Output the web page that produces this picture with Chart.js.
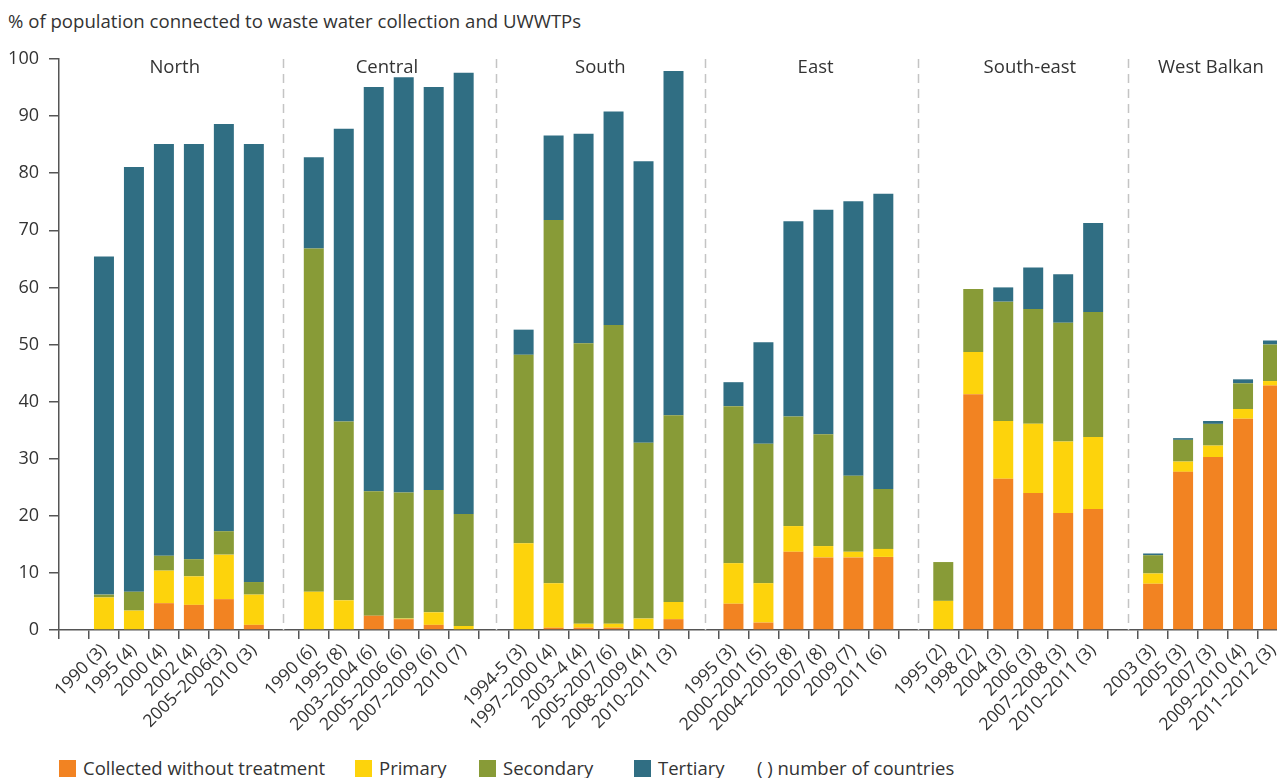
<!DOCTYPE html>
<html>
<head>
<meta charset="utf-8">
<script src="https://cdn.jsdelivr.net/npm/chart.js@4/dist/chart.umd.min.js"></script>
<style>
  body { margin: 0; background: #fff; overflow: hidden; font-family: 'Open Sans', sans-serif; color: #333; }
  #wrap { position: absolute; left: 0; top: 0; width: 1290px; height: 740px; }
  #title { position: absolute; left: 8px; top: 8px; font-size: 18.6px; color: #333; white-space: nowrap; }
  .lg { position: absolute; top: 757px; font-size: 18.5px; line-height: 22px; color: #333; white-space: nowrap; }
  .lg i { display: inline-block; width: 17px; height: 17px; vertical-align: -2px; margin-right: 7px; }
</style>
</head>
<body>
<div id="title">% of population connected to waste water collection and UWWTPs</div>
<div id="wrap"><canvas id="myChart" width="1290" height="740"></canvas></div>
<div class="lg" style="left:59px"><i style="background:#f28322"></i>Collected without treatment</div>
<div class="lg" style="left:355px"><i style="background:#fdd30c"></i>Primary</div>
<div class="lg" style="left:479px"><i style="background:#889b37"></i>Secondary</div>
<div class="lg" style="left:634px"><i style="background:#306e83"></i>Tertiary</div>
<div class="lg" style="left:757px">( ) number of countries</div>
<script>
// du lieu
const labels = ['',
  '1990 (3)', '1995 (4)', '2000 (4)', '2002 (4)', '2005–2006(3)', '2010 (3)', '',
  '1990 (6)', '1995 (8)', '2003–2004 (6)', '2005–2006 (6)', '2007–2009 (6)', '2010 (7)', '',
  '1994-5 (3)', '1997–2000 (4)', '2003–4 (4)', '2005-2007 (6)', '2008-2009 (4)', '2010-2011 (3)', '',
  '1995 (3)', '2000–2001 (5)', '2004–2005 (8)', '2007 (8)', '2009 (7)', '2011 (6)', '',
  '1995 (2)', '1998 (2)', '2004 (3)', '2006 (3)', '2007–2008 (3)', '2010–2011 (3)', '',
  '2003 (3)', '2005 (3)', '2007 (3)', '2009–2010 (4)', '2011–2012 (3)'];

const regions = ['North', 'Central', 'South', 'East', 'South-east', 'West Balkan'];

const collected = [null, 0, 0, 4.7, 4.4, 5.4, 0.9, null, 0, 0, 2.5, 1.9, 0.9, 0, null,
  0, 0.4, 0.4, 0.4, 0, 1.9, null, 4.6, 1.3, 13.7, 12.7, 12.7, 12.8, null,
  0, 41.3, 26.5, 24.0, 20.5, 21.2, null, 8.1, 27.7, 30.3, 37.0, 42.8];
const primary = [null, 5.7, 3.4, 5.7, 5.0, 7.8, 5.3, null, 6.7, 5.2, 0, 0.1, 2.2, 0.7, null,
  15.2, 7.8, 0.7, 0.7, 2.0, 3.0, null, 7.1, 6.9, 4.5, 2.0, 1.0, 1.4, null,
  5.1, 7.4, 10.1, 12.1, 12.5, 12.6, null, 1.8, 1.8, 2.0, 1.7, 0.8];
const secondary = [null, 0.5, 3.3, 2.6, 3.0, 4.1, 2.2, null, 60.1, 31.3, 21.8, 22.1, 21.4, 19.6, null,
  33.0, 63.6, 49.1, 52.3, 30.8, 32.7, null, 27.5, 24.4, 19.2, 19.6, 13.3, 10.5, null,
  6.8, 11.0, 20.9, 20.1, 20.8, 21.9, null, 3.2, 3.8, 3.8, 4.5, 6.4];
const tertiary = [null, 59.2, 74.4, 72.1, 72.7, 71.3, 76.7, null, 16.0, 51.3, 70.8, 72.7, 70.6, 77.3, null,
  4.4, 14.8, 36.7, 37.4, 49.3, 60.3, null, 4.2, 17.8, 34.2, 39.3, 48.1, 51.7, null,
  0, 0, 2.5, 7.3, 8.5, 15.6, null, 0.3, 0.3, 0.5, 0.7, 0.7];

// vi tri nhan vung va duong ke (theo chi so cot)
const regionPos = [3.36, 10.44, 17.56, 24.74, 31.89, 37.93];
const sepPos = [6.97, 14.08, 21.05, 28.16, 35.17];

const regionPlugin = {
  id: 'regions',
  beforeDatasetsDraw(chart) {
    const ctx = chart.ctx;
    const x = chart.scales.x;
    const area = chart.chartArea;
    ctx.save();
    ctx.strokeStyle = '#c4c4c4';
    ctx.lineWidth = 1.5;
    ctx.setLineDash([9, 6]);
    sepPos.forEach(p => {
      const px = Math.round(x.getPixelForValue(p)) + 0.5;
      ctx.beginPath();
      ctx.moveTo(px, area.top);
      ctx.lineTo(px, area.bottom);
      ctx.stroke();
    });
    ctx.restore();
  },
  afterDatasetsDraw(chart) {
    const ctx = chart.ctx;
    const x = chart.scales.x;
    ctx.save();
    ctx.font = '18.5px "Open Sans"';
    ctx.fillStyle = '#333';
    ctx.textAlign = 'center';
    ctx.textBaseline = 'middle';
    regions.forEach((r, i) => {
      ctx.fillText(r, x.getPixelForValue(regionPos[i]), 68);
    });
    ctx.restore();
  }
};

const config = {
  type: 'bar',
  data: {
    labels: labels,
    datasets: [
      { label: 'Collected without treatment', data: collected, backgroundColor: '#f28322' },
      { label: 'Primary', data: primary, backgroundColor: '#fdd30c' },
      { label: 'Secondary', data: secondary, backgroundColor: '#889b37' },
      { label: 'Tertiary', data: tertiary, backgroundColor: '#306e83' }
    ]
  },
  options: {
    responsive: false,
    animation: false,
    layout: { padding: { top: 59, left: 0, right: 2, bottom: 0 } },
    datasets: { bar: { categoryPercentage: 1, barPercentage: 0.667 } },
    plugins: {
      legend: { display: false },
      tooltip: { enabled: false }
    },
    scales: {
      x: {
        stacked: true,
        offset: true,
        afterFit: s => { s.height = 110; },
        border: { color: '#555', width: 1.5 },
        grid: { offset: true, drawOnChartArea: false, drawTicks: true, tickLength: 9, color: '#555', lineWidth: 1.5 },
        ticks: {
          autoSkip: false,
          maxRotation: 45,
          minRotation: 45,
          padding: 1,
          color: '#333',
          font: { family: 'Open Sans', size: 17.5 }
        }
      },
      y: {
        stacked: true,
        min: 0,
        max: 100,
        afterFit: s => { s.width = 59; },
        border: { color: '#555', width: 1.5 },
        grid: { drawOnChartArea: false, drawTicks: true, tickLength: 10, color: '#555', lineWidth: 1.5 },
        ticks: {
          stepSize: 10,
          padding: 10,
          color: '#333',
          font: { family: 'Open Sans', size: 18 }
        }
      }
    }
  },
  plugins: [regionPlugin]
};

const ctx = document.getElementById('myChart').getContext('2d');
let myChart = new Chart(ctx, config);
</script>
</body>
</html>
